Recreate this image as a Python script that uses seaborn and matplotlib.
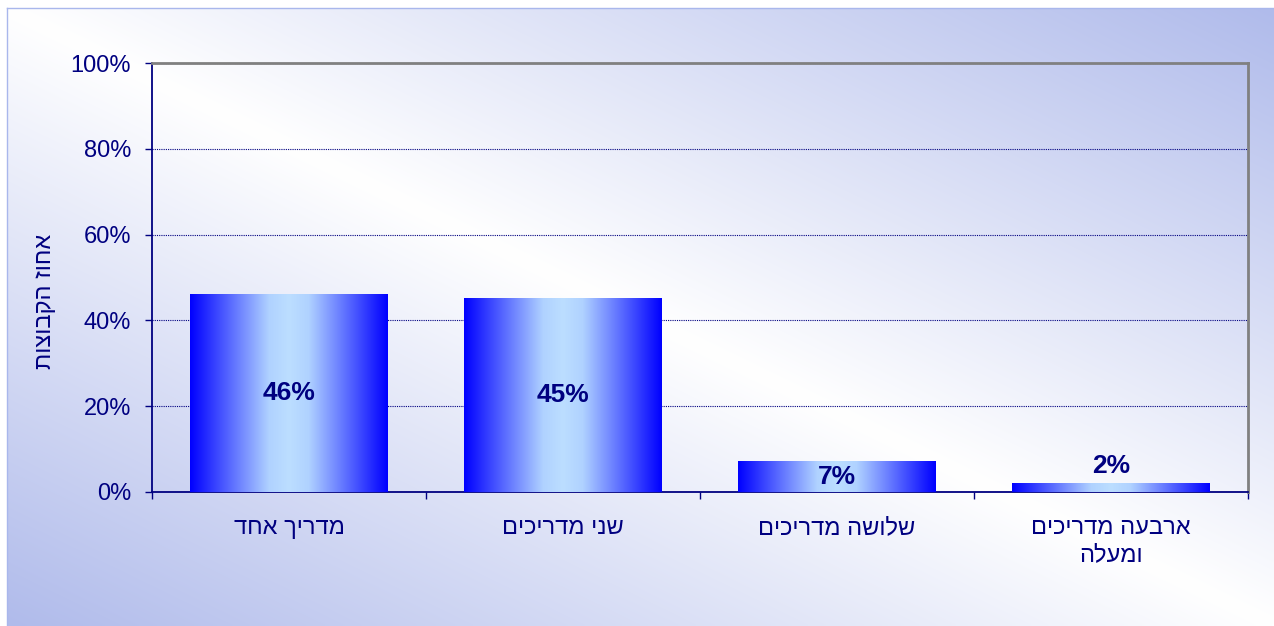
import numpy as np
import pandas as pd
import seaborn as sns
from matplotlib import pyplot as plt
from matplotlib.colors import LinearSegmentedColormap, to_rgb
from matplotlib.ticker import PercentFormatter, FixedLocator

# data
categories = ['מדריך אחד', 'שני מדריכים', 'שלושה מדריכים', 'ארבעה מדריכים\nומעלה']
values = [46, 45, 7, 2]
value_labels = ['46%', '45%', '7%', '2%']
y_label = 'אחוז הקבוצות'


def rtl(s):
    # matplotlib has no bidi support, so flip each line by hand
    return '\n'.join(line[::-1] for line in s.split('\n'))


sns.set_style('white')
plt.rcParams['font.family'] = ['Liberation Sans', 'DejaVu Sans']

navy = '#000080'
lavender = np.array(to_rgb('#b0bbeb'))

fig = plt.figure(figsize=(12.74, 6.26), dpi=100)
fig.patch.set_facecolor('white')

# diagonal background wash behind the chart
bg = fig.add_axes([7 / 1274, 0, 1 - 7 / 1274, 618 / 626], zorder=-1)
W, H = 400, 200
xx, yy = np.meshgrid(np.linspace(0, 1, W), np.linspace(0, 1, H))
d = np.clip(np.abs(xx - yy), 0, 1)[..., None]
img = (1 - d) * np.ones(3) + d * lavender
bg.imshow(img, aspect='auto', extent=[0, 1, 0, 1], interpolation='bilinear')
bg.set_xticks([])
bg.set_yticks([])
for side in ['right', 'bottom']:
    bg.spines[side].set_visible(False)
for side in ['left', 'top']:
    bg.spines[side].set_color('#a9b7ec')
    bg.spines[side].set_linewidth(1)

ax = fig.add_axes([152 / 1274, 134 / 626, 1096 / 1274, 429 / 626])
ax.set_zorder(1)
ax.patch.set_alpha(0)

df = pd.DataFrame({'category': [rtl(c) for c in categories], 'value': values})
sns.barplot(data=df, x='category', y='value', color='#0000ff', saturation=1,
            width=0.72, ax=ax, zorder=3)

# horizontal blue -> light blue -> blue fill on each bar
bar_cmap = LinearSegmentedColormap.from_list(
    'bar', [(0, '#0000ff'), (0.4, '#b0d2ff'), (0.5, '#bcdeff'), (0.6, '#b0d2ff'), (1, '#0000ff')])
grad = np.linspace(0, 1, 256).reshape(1, -1)
for p in list(ax.patches):
    x0, y0, w, h = p.get_x(), p.get_y(), p.get_width(), p.get_height()
    ax.imshow(grad, cmap=bar_cmap, aspect='auto', extent=[x0, x0 + w, y0, y0 + h],
              zorder=3, interpolation='bilinear')
    p.set_facecolor('none')
    p.set_edgecolor('none')

for i, (v, lab) in enumerate(zip(values, value_labels)):
    ypos = v / 2 if v >= 5 else v + 4
    ax.text(i, ypos, lab, ha='center', va='center', fontsize=19, fontweight='bold',
            color=navy, zorder=5)

ax.set_xlim(-0.5, len(values) - 0.5)
ax.set_ylim(0, 100)
ax.set_yticks([0, 20, 40, 60, 80, 100])
ax.yaxis.set_major_formatter(PercentFormatter(xmax=100, decimals=0))
ax.grid(axis='y', color=navy, linestyle=(0, (1, 1)), linewidth=0.8, zorder=0)
ax.set_axisbelow(True)

ax.tick_params(axis='y', which='major', direction='out', length=5, width=1,
               color=navy, labelcolor=navy, labelsize=17, pad=10, left=True)
ax.tick_params(axis='x', which='major', length=0, labelcolor=navy, labelsize=17, pad=18)
ax.xaxis.set_minor_locator(FixedLocator(np.arange(len(values) + 1) - 0.5))
ax.tick_params(axis='x', which='minor', direction='out', length=5, width=1,
               color=navy, bottom=True)
for t in ax.get_xticklabels():
    t.set_linespacing(1.3)

ax.set_xlabel('')
ax.set_ylabel(rtl(y_label), fontsize=17, color=navy)
ax.yaxis.set_label_coords(-0.088, 0.445)

ax.spines['left'].set_color(navy)
ax.spines['left'].set_linewidth(1.3)
ax.spines['bottom'].set_color(navy)
ax.spines['bottom'].set_linewidth(1.3)
for side in ['top', 'right']:
    ax.spines[side].set_visible(True)
    ax.spines[side].set_color('#808080')
    ax.spines[side].set_linewidth(2)

fig.savefig('out.png', dpi=100, facecolor=fig.get_facecolor())
